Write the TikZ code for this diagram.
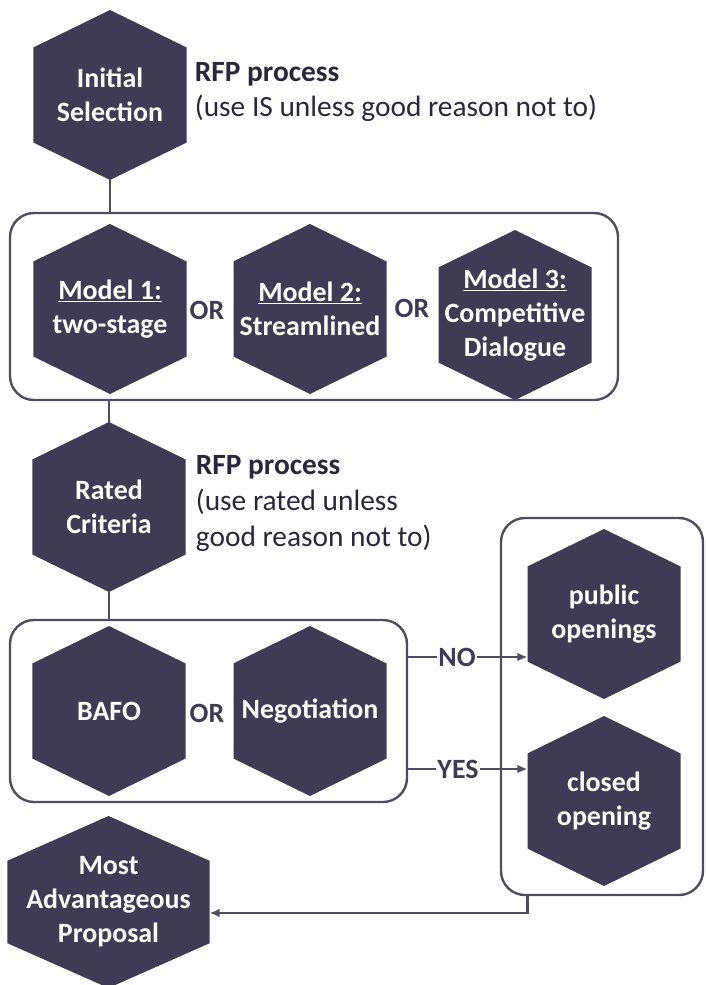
\documentclass[tikz,border=0pt]{standalone}
\usepackage{fontspec}
\setmainfont{Carlito}
\usetikzlibrary{calc,positioning,arrows.meta}
\definecolor{hexFill}{RGB}{63,59,84}
\definecolor{lineGrey}{RGB}{80,78,94}
\definecolor{textDark}{RGB}{42,40,56}

\tikzset{
  hex rise/.store in=\hexRise, hex rise=0.22,
  hex/.style={minimum width=153bp, minimum height=170bp, inner sep=0pt,
    text=white, align=center, font=\fontsize{28}{34}\selectfont\bfseries,
    path picture={\fill[hexFill]
      (path picture bounding box.north)
      -- ($(path picture bounding box.north east)!\hexRise!(path picture bounding box.south east)$)
      -- ($(path picture bounding box.south east)!\hexRise!(path picture bounding box.north east)$)
      -- (path picture bounding box.south)
      -- ($(path picture bounding box.south west)!\hexRise!(path picture bounding box.north west)$)
      -- ($(path picture bounding box.north west)!\hexRise!(path picture bounding box.south west)$)
      -- cycle;}},
  groupbox/.style={draw=lineGrey, line width=2.4bp, rounded corners=24bp, inner sep=0pt},
  conn/.style={draw=lineGrey, line width=2.4bp, >={Latex[length=10bp,width=9bp]}},
  orlabel/.style={text=hexFill, font=\fontsize{28}{32}\selectfont\bfseries, inner sep=1bp},
  yesno/.style={text=hexFill, font=\fontsize{28}{32}\selectfont\bfseries, inner sep=1.5bp},
  rfp/.style={text=textDark, align=left, font=\fontsize{29.5}{36}\selectfont, inner sep=2bp}
}

\begin{document}
\begin{tikzpicture}[x=1bp,y=-1bp]
\useasboundingbox (0,0) rectangle (706,985);

% grouping boxes
\node[groupbox, minimum width=608bp, minimum height=187bp] (modelBox) at (314,306.5) {};
\node[groupbox, minimum width=397bp, minimum height=182bp] (offerBox) at (208.5,711) {};
\node[groupbox, minimum width=202bp, minimum height=377bp] (openBox) at (602,706.5) {};

% the hexagons
\foreach \nm/\cx/\cy/\txt in {
  init/110/95/{Initial\\Selection},
  m1/110/309/{\underline{Model 1:}\\two-stage},
  m2/310/309/{\underline{Model 2:}\\Streamlined},
  m3/515/315/{\underline{Model 3:}\\Competitive\\Dialogue},
  rated/109/507/{Rated\\Criteria},
  bafo/109/711/{BAFO},
  nego/310/711/{Negotiation},
  pub/604/614/{public\\openings},
  closed/604/801/{closed\\opening}}
  \node[hex] (\nm) at (\cx,\cy) {\txt};
\node[hex, hex rise=0.26, minimum width=202bp, minimum height=172bp] (map) at (108.5,902) {Most\\Advantageous\\Proposal};

% OR between the choices
\node[orlabel] (or1) at (207,310) {OR};
\node[orlabel] (or2) at (412,308) {OR};
\node[orlabel] (or3) at (207,713) {OR};

% side notes
\node[rfp, right=6bp of init, yshift=3bp] (rfpInit) {\textbf{RFP process}\\(use IS unless good reason not to)};
\node[rfp, right=8bp of rated, yshift=3.5bp] (rfpRated) {\textbf{RFP process}\\(use rated unless\\good reason not to)};

% connectors
\draw[conn] (init.south) -- (init.south |- modelBox.north);
\draw[conn] (rated.north |- modelBox.south) -- (rated.north);
\draw[conn] (rated.south) -- (rated.south |- offerBox.north);

\node[yesno] (no) at (457,657) {NO};
\node[yesno] (yes) at (458,769) {YES};
\draw[conn] (offerBox.east |- no) -- (no.west);
\draw[conn,->] (no.east) -- (no -| pub.west);
\draw[conn] (offerBox.east |- yes) -- (yes.west);
\draw[conn,->] (yes.east) -- (yes -| closed.west);

\draw[conn,->] (openBox.south -| pub.west) |- ([yshift=-11bp]map.east);

\end{tikzpicture}
\end{document}
